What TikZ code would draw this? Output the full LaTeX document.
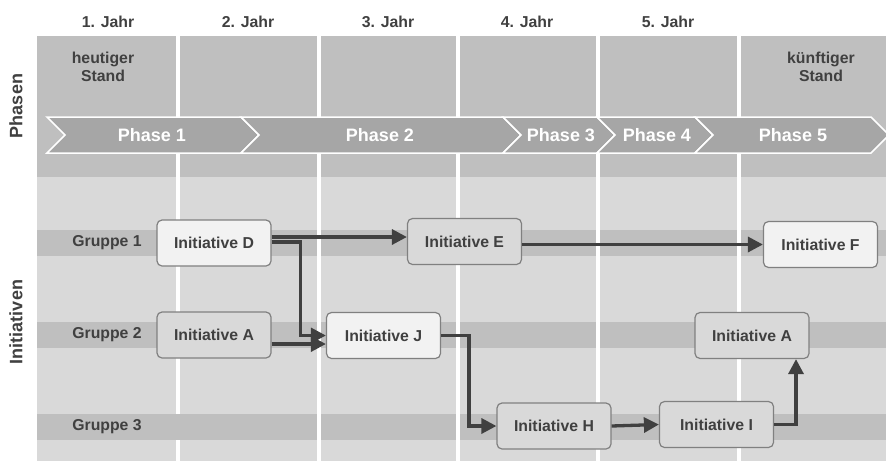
\documentclass[tikz,border=0pt]{standalone}
\usepackage{fontspec}
\setmainfont{Liberation Sans}
\usetikzlibrary{arrows.meta}
\definecolor{bgdark}{HTML}{BFBFBF}
\definecolor{bglight}{HTML}{D9D9D9}
\definecolor{phasefill}{HTML}{A6A6A6}
\definecolor{txt}{HTML}{404040}
\definecolor{boxlight}{HTML}{F2F2F2}
\definecolor{boxborder}{HTML}{808080}
\tikzset{
  lbl/.style={text=txt, font=\bfseries\fontsize{15.8}{17.6}\selectfont, inner sep=0pt, align=center},
  biglbl/.style={text=txt, font=\bfseries\fontsize{18}{20}\selectfont, inner sep=0pt, rotate=90},
  phaselbl/.style={text=white, font=\bfseries\fontsize{18}{20}\selectfont, inner sep=0pt},
  chev/.style={fill=phasefill, draw=white, line width=1.5pt, line join=miter},
  sep/.style={draw=white, line width=4.2pt},
  band/.style={fill=bgdark, draw=none},
  initbox/.style={draw=boxborder, line width=1.2pt, rounded corners=5pt, minimum width=114pt, minimum height=46pt,
    text=txt, font=\bfseries\fontsize{15.8}{18}\selectfont, inner sep=0pt},
  hi/.style={initbox, fill=boxlight},
  lo/.style={initbox, fill=bglight},
  arr/.style={draw=txt, line width=3.3pt, -{Triangle[length=15pt,width=15pt]}},
  lnk/.style={draw=txt, line width=3.3pt}
}
\begin{document}
\begin{tikzpicture}[x=1pt,y=-1pt]
\useasboundingbox (0,0) rectangle (886,461);
\fill[white] (0,0) rectangle (886,461);
% backgrounds
\fill[bgdark] (37,36) rectangle (886,177);
\fill[bglight] (37,177) rectangle (886,461);
% group bands
\fill[band] (37,230) rectangle (886,256);
\fill[band] (37,322) rectangle (886,348);
\fill[band] (37,414) rectangle (886,440);
% separators
\draw[sep] (178,36) -- (178,414);
\draw[sep] (178,440) -- (178,461);
\foreach \x in {319,458,598,739} \draw[sep] (\x,36) -- (\x,461);
% chevrons
\foreach \b/\e in {47/241,241/503,503/597,597/695,695/871}
  \draw[chev] (\b,117) -- (\e,117) -- (\e+18,135) -- (\e,153) -- (\b,153) -- (\b+18,135) -- cycle;
\node[phaselbl] (p1) at (152,135) {Phase 1};
\node[phaselbl] (p2) at (380,135) {Phase 2};
\node[phaselbl] (p3) at (561,135) {Phase 3};
\node[phaselbl] (p4) at (657,135) {Phase 4};
\node[phaselbl] (p5) at (793,135) {Phase 5};
% years
\node[lbl] (y1) at (108,22) {1. Jahr};
\node[lbl] (y2) at (248,22) {2. Jahr};
\node[lbl] (y3) at (388,22) {3. Jahr};
\node[lbl] (y4) at (527,22) {4. Jahr};
\node[lbl] (y5) at (668,22) {5. Jahr};
\node[lbl] (heute) at (103,67) {heutiger\\Stand};
\node[lbl] (kuenftig) at (821,67) {künftiger\\Stand};
% side labels
\node[biglbl] (phasen) at (16,106) {Phasen};
\node[biglbl] (initiativen) at (16,322) {Initiativen};
% groups
\node[lbl] (g1) at (107,243) {Gruppe 1};
\node[lbl] (g2) at (107,335) {Gruppe 2};
\node[lbl] (g3) at (107,427) {Gruppe 3};
% initiatives
\node[hi] (D) at (214,243) {Initiative D};
\node[lo] (A1) at (214,335) {Initiative A};
\node[hi] (J) at (383.5,335.5) {Initiative J};
\node[lo] (E) at (464.5,241.5) {Initiative E};
\node[hi] (F) at (820.5,244.5) {Initiative F};
\node[lo] (A2) at (752,335.5) {Initiative A};
\node[lo] (H) at (554,426) {Initiative H};
\node[lo] (I) at (716.5,424.5) {Initiative I};
% connectors
\draw[arr] ([yshift=6pt]D.east) -- ([yshift=6pt]D.east -| E.west);
\draw[arr] ([yshift=1pt]D.east) -- ++(29,0) |- (J.west);
\draw[arr] ([yshift=-9pt]A1.east) -- ([yshift=-9pt]A1.east -| J.west);
\draw[arr] (E.east |- F.west) -- (F.west);
\draw[arr] (J.east) -- ++(28,0) |- (H.west);
\draw[arr] (H.east) -- (I.west);
\draw[arr] (I.east) -| ([xshift=44pt]A2.south);
\end{tikzpicture}
\end{document}
